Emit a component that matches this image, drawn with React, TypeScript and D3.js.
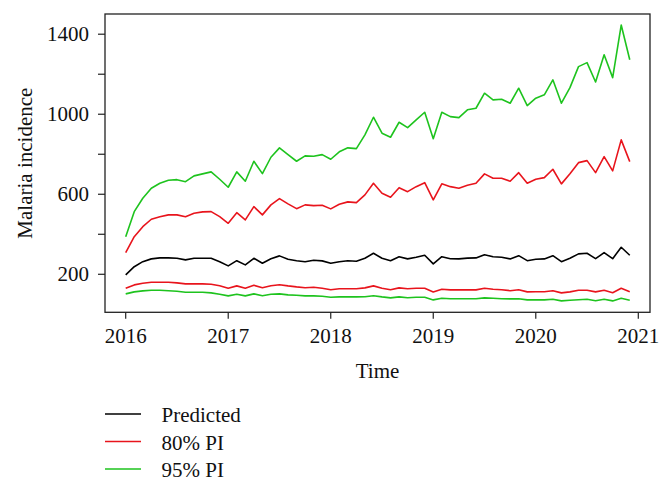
import React from "react";
import * as d3 from "d3";

const predicted = [197,238,263,277,282,282,280,272,280,280,280,263,242,268,247,280,255,278,292,275,268,263,270,267,255,263,268,265,280,305,280,268,288,277,285,295,252,288,278,277,281,282,298,288,285,277,293,268,275,277,293,263,280,302,305,278,308,278,335,295];
const pi80Upper = [308,388,438,475,488,497,497,488,505,512,513,488,455,508,472,538,497,547,578,552,528,547,543,545,527,550,562,558,597,655,605,585,633,613,638,658,572,652,638,630,645,655,702,680,680,665,708,655,675,683,725,652,702,758,768,708,788,717,872,763];
const pi80Lower = [130,147,155,160,160,160,157,152,153,152,150,143,130,142,130,145,133,143,148,142,137,133,135,130,123,128,128,128,132,142,130,123,132,128,130,130,112,125,122,122,123,122,130,125,123,118,123,112,113,113,118,107,112,120,120,112,120,108,130,113];
const pi95Upper = [388,513,580,630,655,670,673,663,692,702,712,675,635,712,665,765,703,785,832,798,765,792,790,798,775,812,832,828,897,985,905,885,960,933,972,1010,878,1010,988,983,1022,1030,1105,1072,1075,1055,1130,1043,1080,1097,1172,1055,1133,1238,1258,1161,1297,1183,1446,1272];
const pi95Lower = [102,112,117,120,120,118,115,110,110,110,107,100,92,100,92,102,93,100,102,97,95,92,92,90,85,87,87,87,88,93,87,82,87,83,85,85,72,80,78,78,78,78,82,80,78,77,78,72,72,72,75,67,70,73,75,68,75,67,80,70];

const startYear = 2016;
const xTicks = [2016, 2017, 2018, 2019, 2020, 2021];
const yTicks = [200, 400, 600, 800, 1000, 1200, 1400];
const yLabelTicks = [200, 600, 1000, 1400];
const legendLabels = ["Predicted", "80% PI", "95% PI"];

const RED = "#e8141c";
const GREEN = "#1ec31e";
const FONT = "'Liberation Serif', 'DejaVu Serif', serif";

export default function App() {
  const W = 670, H = 491;
  const left = 105, right = 650, top = 14, bottom = 312.3;
  const x = d3.scaleLinear().domain([2016, 2021]).range([125.7, 638.3]);
  const y = d3.scaleLinear().domain([10, 1501]).range([bottom, top]);
  const t = (i: number) => startYear + i / 12;
  const line = d3
    .line<number>()
    .x((_, i) => x(t(i)))
    .y((v) => y(v));

  const series = [
    { data: pi95Upper, color: GREEN },
    { data: pi95Lower, color: GREEN },
    { data: pi80Upper, color: RED },
    { data: pi80Lower, color: RED },
    { data: predicted, color: "#000" },
  ];
  const legendColors = ["#000", RED, GREEN];

  return (
    <svg
      width={W}
      height={H}
      style={{ position: "absolute", left: 0, top: 0, background: "#fff" }}
      fontFamily={FONT}
    >
      <rect x={0} y={0} width={W} height={H} fill="#fff" />
      {series.map((s, k) => (
        <path key={k} d={line(s.data) || ""} fill="none" stroke={s.color} strokeWidth={1.6} strokeLinejoin="round" />
      ))}
      <rect x={left} y={top} width={right - left} height={bottom - top} fill="none" stroke="#222" strokeWidth={1.3} />
      {xTicks.map((v) => (
        <g key={v}>
          <line x1={x(v)} x2={x(v)} y1={bottom} y2={bottom + 6.5} stroke="#222" strokeWidth={1.2} />
          <text x={x(v)} y={343} textAnchor="middle" fontSize={21} fill="#111">
            {v}
          </text>
        </g>
      ))}
      {yTicks.map((v) => (
        <line key={v} x1={left - 7} x2={left} y1={y(v)} y2={y(v)} stroke="#222" strokeWidth={1.2} />
      ))}
      {yLabelTicks.map((v) => (
        <text key={v} x={89} y={y(v) + 7} textAnchor="end" fontSize={21} fill="#111">
          {v}
        </text>
      ))}
      <text
        transform={`translate(32, ${(top + bottom) / 2}) rotate(-90)`}
        textAnchor="middle"
        fontSize={21}
        fill="#111"
      >
        Malaria incidence
      </text>
      <text x={(left + right) / 2} y={378} textAnchor="middle" fontSize={21} fill="#111">
        Time
      </text>
      {legendLabels.map((lab, i) => {
        const ly = 414 + i * 27.5;
        return (
          <g key={lab}>
            <line x1={105} x2={141} y1={ly} y2={ly} stroke={legendColors[i]} strokeWidth={1.6} />
            <text x={161.5} y={ly + 8} fontSize={21} fill="#111">
              {lab}
            </text>
          </g>
        );
      })}
    </svg>
  );
}
